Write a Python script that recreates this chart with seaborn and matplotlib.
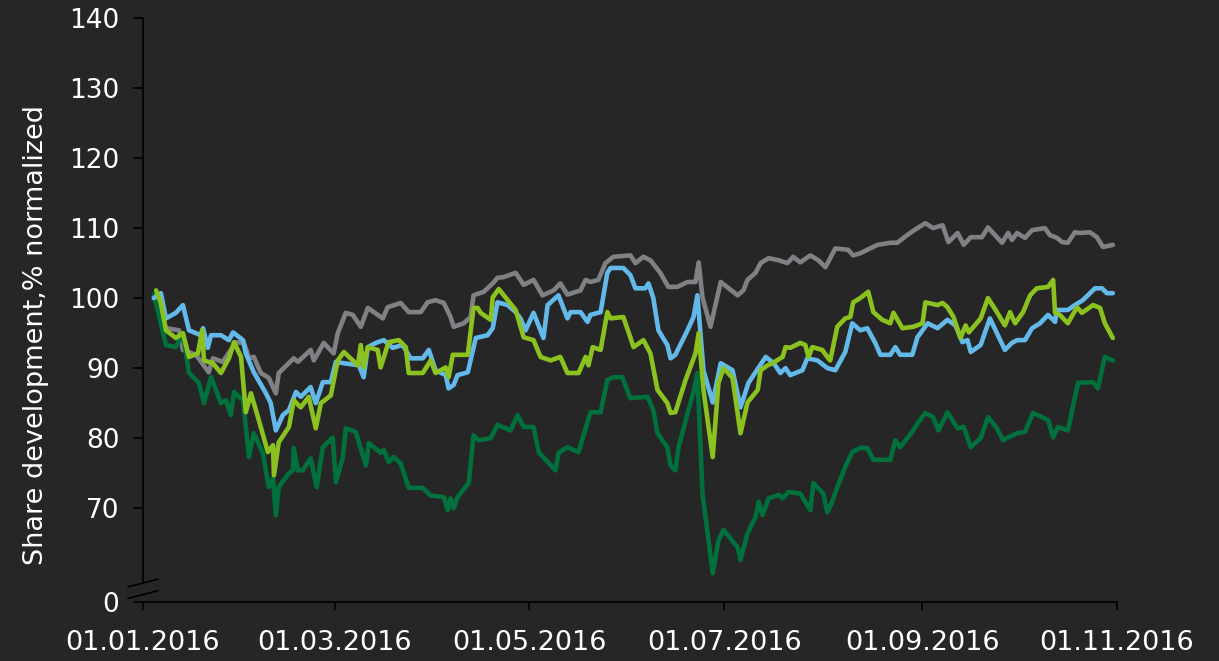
import seaborn as sns
import pandas as pd
from matplotlib import pyplot as plt

# day of year 2016 (0 = 01.01.2016), value in % (normalized to 100)
grey = [(3.4, 100.2), (7.2, 95.7), (11.3, 95.4), (12.5, 92.6), (16.6, 91.9), (20.6, 89.4), (21.9, 91.4),
        (25.0, 90.9), (29.1, 93.7), (31.6, 93.6), (33.2, 91.4), (34.7, 91.6), (36.9, 89.3), (39.4, 88.6),
        (41.6, 86.4), (42.5, 89.3), (47.2, 91.4), (48.5, 90.9), (52.5, 92.6), (53.5, 91.1), (56.6, 93.6),
        (59.7, 92.1), (61.0, 95.0), (63.5, 97.9), (65.7, 97.6), (68.2, 95.9), (70.4, 98.6), (75.1, 97.1),
        (76.6, 98.7), (80.7, 99.3), (83.2, 98.0), (87.0, 98.0), (89.1, 99.4), (91.6, 99.7), (94.2, 99.3),
        (96.3, 97.3), (97.3, 95.9), (100.4, 96.4), (102.6, 97.3), (103.5, 100.4), (106.7, 100.9),
        (109.5, 102.1), (111.0, 102.9), (112.9, 103.0), (116.7, 103.6), (119.2, 101.9), (122.3, 102.6),
        (125.1, 100.4), (128.6, 101.1), (130.7, 102.1), (132.9, 100.5), (137.0, 101.1), (138.6, 102.6),
        (140.1, 102.3), (142.6, 102.6), (144.8, 105.0), (147.3, 105.9), (152.6, 106.1), (154.2, 105.0),
        (156.7, 105.9), (158.9, 105.4), (162.0, 103.6), (164.5, 101.6), (167.3, 101.6), (170.5, 102.3),
        (173.0, 102.3), (174.0, 105.1), (175.2, 100.1), (177.7, 95.9), (180.9, 102.3), (183.4, 101.4),
        (186.2, 100.4), (188.0, 101.1), (189.3, 102.6), (191.8, 103.6), (193.4, 105.0), (195.9, 105.7),
        (199.1, 105.4), (201.8, 105.0), (203.6, 105.9), (205.8, 105.1), (209.0, 106.1), (211.5, 105.4),
        (213.7, 104.4), (216.8, 107.1), (220.8, 106.9), (222.4, 106.1), (224.6, 106.4), (227.7, 107.1),
        (230.0, 107.6), (234.0, 107.9), (236.2, 107.9), (239.3, 109.0), (242.5, 110.0), (245.0, 110.7),
        (247.4, 110.0), (250.4, 110.4), (252.2, 108.0), (255.1, 109.3), (257.0, 107.6), (259.2, 108.7),
        (262.7, 108.7), (264.6, 110.1), (269.0, 107.9), (270.9, 109.3), (272.1, 108.3), (273.7, 109.3),
        (276.2, 108.6), (278.4, 109.7), (282.4, 110.0), (284.0, 109.0), (286.2, 108.6), (287.8, 108.0),
        (289.6, 107.9), (291.8, 109.4), (293.4, 109.3), (296.5, 109.4), (298.7, 108.7), (300.6, 107.3),
        (303.7, 107.6)]

blue = [(3.4, 100.0), (5.6, 100.7), (7.2, 97.1), (10.3, 97.9), (12.5, 99.0), (14.4, 95.4), (18.1, 94.7),
        (18.8, 95.7), (20.3, 92.9), (21.3, 94.7), (24.4, 94.7), (26.9, 94.0), (28.2, 95.1), (31.3, 94.0),
        (32.2, 92.1), (34.7, 89.4), (38.5, 86.4), (40.0, 85.0), (41.6, 81.1), (43.8, 83.3), (45.7, 84.0),
        (47.9, 86.6), (49.4, 85.9), (52.5, 87.3), (54.1, 85.0), (56.3, 88.0), (58.8, 88.0), (60.4, 90.9),
        (62.9, 90.7), (67.6, 90.4), (69.1, 88.7), (70.4, 93.0), (72.9, 93.6), (75.4, 94.0), (78.2, 92.9),
        (81.3, 93.3), (83.8, 91.4), (87.6, 91.4), (89.5, 92.6), (91.6, 89.7), (94.8, 89.0), (95.7, 87.1),
        (97.3, 87.6), (98.5, 89.0), (101.7, 89.4), (104.2, 94.3), (107.9, 94.7), (109.5, 95.7), (111.0, 99.4),
        (114.2, 99.0), (116.7, 98.0), (118.2, 97.1), (119.8, 95.4), (122.3, 97.9), (125.4, 94.3),
        (126.7, 99.0), (130.1, 100.4), (132.9, 97.1), (133.9, 98.0), (137.0, 98.0), (139.2, 96.6),
        (140.1, 97.6), (143.3, 98.0), (145.4, 103.6), (146.4, 104.3), (150.4, 104.3), (152.6, 103.3),
        (154.2, 101.4), (157.3, 101.4), (158.3, 102.1), (159.8, 100.0), (161.4, 95.4), (164.2, 93.3),
        (165.2, 91.4), (166.7, 91.9), (170.5, 95.4), (172.4, 97.3), (173.6, 100.4), (175.5, 89.7),
        (178.4, 85.1), (180.9, 90.7), (184.6, 89.7), (187.1, 84.4), (189.6, 87.9), (192.8, 90.1),
        (195.0, 91.6), (197.5, 90.7), (199.6, 89.3), (201.2, 90.0), (202.7, 89.0), (206.5, 89.7),
        (208.0, 91.4), (211.2, 91.1), (214.3, 90.0), (216.8, 89.7), (219.9, 92.3), (222.1, 96.4),
        (224.6, 95.4), (226.8, 95.7), (229.3, 93.6), (230.9, 91.9), (234.0, 91.9), (235.6, 93.0),
        (237.1, 91.9), (240.9, 91.9), (242.5, 94.4), (245.7, 96.4), (248.8, 95.7), (251.9, 96.9),
        (254.4, 96.1), (256.6, 93.7), (258.2, 94.0), (259.2, 92.3), (262.3, 93.3), (265.2, 97.1),
        (269.9, 92.6), (272.1, 93.6), (273.7, 94.0), (276.2, 94.0), (278.4, 95.7), (280.9, 96.4),
        (283.4, 97.6), (285.6, 96.6), (286.2, 98.3), (289.6, 98.3), (291.8, 99.0), (294.3, 99.7),
        (298.1, 101.4), (300.3, 101.4), (301.8, 100.7), (303.7, 100.7)]

lime = [(4.1, 101.1), (5.6, 99.3), (7.2, 95.4), (10.3, 94.3), (12.5, 95.0), (14.4, 91.6), (17.2, 92.1),
        (18.5, 95.4), (19.1, 91.1), (21.9, 90.7), (24.4, 89.3), (26.9, 91.4), (28.5, 93.7), (30.7, 91.6),
        (32.2, 83.7), (33.8, 86.4), (36.0, 83.0), (39.1, 78.0), (40.7, 79.0), (41.0, 74.7), (42.5, 79.4),
        (45.7, 81.6), (47.2, 85.4), (49.4, 84.4), (51.9, 85.9), (54.1, 81.4), (55.7, 85.0), (58.8, 86.1),
        (61.0, 91.1), (62.9, 92.3), (67.3, 90.4), (68.2, 93.3), (69.1, 90.1), (70.4, 93.0), (73.5, 92.6),
        (74.4, 90.1), (76.9, 93.7), (80.1, 94.0), (82.3, 93.0), (83.2, 89.3), (87.6, 89.3), (90.1, 91.1),
        (91.6, 89.3), (94.8, 90.1), (95.7, 88.7), (97.0, 91.9), (101.7, 91.9), (103.5, 98.6), (104.8, 98.6),
        (105.7, 97.9), (108.9, 96.9), (109.5, 100.1), (111.4, 101.3), (114.2, 99.7), (116.7, 98.3),
        (119.2, 94.4), (122.3, 94.0), (124.5, 91.6), (127.6, 91.1), (130.7, 91.6), (132.9, 89.3),
        (136.4, 89.3), (138.6, 91.6), (139.5, 90.4), (140.8, 93.0), (143.3, 92.6), (145.4, 98.0),
        (146.4, 97.1), (150.4, 97.3), (152.6, 94.4), (153.6, 93.0), (156.7, 94.0), (158.9, 92.1),
        (161.1, 86.9), (164.2, 85.0), (165.2, 83.6), (166.7, 83.7), (169.9, 88.3), (173.0, 92.1),
        (174.0, 95.0), (175.5, 86.9), (178.4, 77.3), (180.2, 87.9), (181.8, 90.0), (184.6, 88.6),
        (187.1, 80.7), (189.3, 85.1), (192.5, 86.9), (193.4, 89.7), (195.6, 90.4), (197.1, 90.7),
        (200.3, 91.6), (201.2, 93.0), (202.7, 92.9), (205.8, 93.6), (207.4, 93.3), (208.4, 91.6),
        (209.6, 93.0), (212.7, 92.6), (214.6, 91.4), (215.2, 91.1), (217.4, 95.9), (219.9, 97.1),
        (221.5, 97.3), (222.4, 99.4), (224.6, 100.0), (227.1, 100.9), (228.7, 98.0), (231.5, 96.9),
        (234.0, 96.4), (235.0, 97.9), (237.8, 95.7), (241.2, 95.9), (244.1, 96.4), (245.0, 99.4),
        (248.8, 99.0), (250.4, 99.3), (251.9, 98.7), (253.8, 97.3), (256.0, 94.3), (257.6, 96.1),
        (258.6, 95.1), (262.3, 97.1), (264.6, 100.0), (267.4, 98.0), (269.9, 96.1), (271.5, 98.0),
        (273.1, 96.4), (275.6, 98.0), (277.8, 100.4), (279.9, 101.4), (283.4, 101.6), (285.0, 102.6),
        (285.6, 97.9), (287.1, 97.6), (289.6, 96.4), (292.5, 98.7), (294.0, 97.9), (297.5, 99.0),
        (299.7, 98.6), (301.2, 96.4), (303.7, 94.3)]

dark_green = [(3.4, 100.5), (7.2, 93.3), (10.3, 93.0), (12.5, 95.0), (14.4, 89.3), (17.5, 87.9), (19.1, 85.0),
              (21.3, 88.7), (24.4, 85.0), (26.0, 85.4), (27.5, 83.3), (28.5, 86.6), (31.3, 85.4), (33.2, 77.3),
              (34.7, 80.7), (37.5, 77.9), (39.4, 73.0), (40.7, 74.3), (41.6, 69.0), (42.5, 73.0), (45.7, 75.0),
              (46.9, 75.4), (47.2, 78.6), (48.5, 75.4), (50.0, 75.4), (52.5, 77.1), (54.4, 73.0), (56.3, 78.7),
              (59.4, 80.1), (60.4, 73.7), (62.6, 77.3), (63.5, 81.4), (66.6, 80.9), (69.8, 76.1), (70.7, 79.3),
              (74.4, 77.9), (75.4, 78.3), (76.9, 76.6), (78.5, 77.3), (80.7, 76.4), (83.2, 72.9), (87.6, 72.9),
              (90.1, 71.8), (94.2, 71.6), (95.4, 69.7), (96.3, 71.4), (97.3, 70.0), (98.5, 71.6), (102.0, 73.6),
              (103.5, 80.4), (105.1, 79.7), (108.9, 80.0), (111.0, 81.9), (115.1, 81.1), (117.3, 83.3),
              (119.2, 81.6), (122.3, 81.6), (123.9, 78.0), (126.1, 76.9), (129.2, 75.4), (130.1, 77.9),
              (132.9, 78.7), (136.4, 78.0), (138.6, 81.4), (140.1, 83.7), (143.3, 83.7), (145.4, 88.3),
              (147.3, 88.7), (150.1, 88.7), (152.6, 85.7), (158.0, 85.9), (159.8, 84.0), (161.1, 80.7),
              (164.2, 78.7), (165.2, 76.1), (166.7, 75.4), (167.7, 78.7), (170.8, 84.0), (172.4, 86.6),
              (173.6, 89.3), (175.2, 72.1), (178.4, 60.7), (180.2, 65.4), (181.8, 66.9), (186.2, 64.4),
              (187.1, 62.6), (189.3, 66.4), (191.8, 68.7), (192.8, 70.9), (194.0, 69.0), (195.9, 71.4),
              (199.1, 71.9), (200.3, 71.4), (202.1, 72.3), (205.8, 72.1), (207.4, 70.9), (209.0, 69.7),
              (209.9, 73.6), (213.0, 72.1), (214.3, 69.4), (215.8, 70.9), (217.4, 73.0), (219.9, 75.9),
              (222.1, 78.0), (224.6, 78.6), (226.8, 78.6), (228.7, 76.9), (234.0, 76.9), (235.6, 79.7),
              (237.1, 78.7), (241.2, 81.1), (242.8, 82.3), (245.0, 83.6), (247.4, 83.0), (249.1, 81.1),
              (251.9, 83.7), (255.1, 81.4), (257.0, 81.6), (259.2, 78.7), (262.3, 80.0), (264.6, 83.0),
              (267.4, 81.4), (269.3, 79.7), (270.9, 80.1), (273.7, 80.7), (276.2, 80.9), (278.7, 83.6),
              (283.4, 82.6), (285.0, 80.1), (286.5, 81.6), (289.6, 81.1), (292.8, 87.9), (297.5, 88.0),
              (299.0, 87.1), (301.2, 91.6), (303.7, 91.1)]

tick_days = [0, 60, 121, 182, 244, 305]
tick_labels = ['01.01.2016', '01.03.2016', '01.05.2016', '01.07.2016', '01.09.2016', '01.11.2016']
y_ticks = [70, 80, 90, 100, 110, 120, 130, 140]
zero_pos = 56.6  # where the "0" sits below the axis break

bg = '#262626'
colors = {'grey': '#7f8184', 'dark green': '#00703c', 'blue': '#63b9e9', 'lime': '#8cc21f'}


def build_frame():
    rows = []
    for name, pts in [('grey', grey), ('dark green', dark_green), ('blue', blue), ('lime', lime)]:
        for d, v in pts:
            rows.append((d, v, name))
    return pd.DataFrame(rows, columns=['day', 'value', 'series'])


def plot():
    sns.set_style('ticks', {'axes.facecolor': bg, 'figure.facecolor': bg,
                            'axes.edgecolor': 'black', 'xtick.color': 'black', 'ytick.color': 'black'})
    plt.rcParams['font.family'] = ['DejaVu Sans']

    df = build_frame()
    fig = plt.figure(figsize=(12.19, 6.61), dpi=100)
    ax = fig.add_axes([143 / 1219, 1 - 602 / 661, (1117 - 143) / 1219, (602 - 18) / 661])

    sns.lineplot(data=df, x='day', y='value', hue='series', hue_order=list(colors),
                 palette=colors, estimator=None, linewidth=3.3, legend=False, ax=ax)

    ax.set_xlim(0, 305)
    ax.set_ylim(zero_pos, 140)
    ax.set_xticks(tick_days)
    ax.set_xticklabels(tick_labels)
    ax.set_yticks([zero_pos] + y_ticks)
    ax.set_yticklabels(['0'] + [str(t) for t in y_ticks])
    ax.tick_params(axis='x', length=6, width=1.2, pad=14, labelsize=19.5, labelcolor='white')
    ax.tick_params(axis='y', length=7, width=1.2, pad=10, labelsize=19, labelcolor='white')

    for s in ['top', 'right']:
        ax.spines[s].set_visible(False)
    for s in ['left', 'bottom']:
        ax.spines[s].set_linewidth(1.2)
    ax.spines['left'].set_bounds(59.6, 140)

    # axis break marks
    for yc in [0.0325, 0.0128]:
        ax.plot([-0.0154, 0.0154], [yc - 0.0066, yc + 0.0066], transform=ax.transAxes,
                color='black', lw=1.2, clip_on=False)

    ax.set_xlabel('')
    ax.set_ylabel('Share development,% normalized', color='white', fontsize=19.5)
    ax.yaxis.set_label_coords(-0.096, 0.457)

    fig.savefig('out.png', dpi=100, facecolor=bg)


if __name__ == '__main__':
    plot()
